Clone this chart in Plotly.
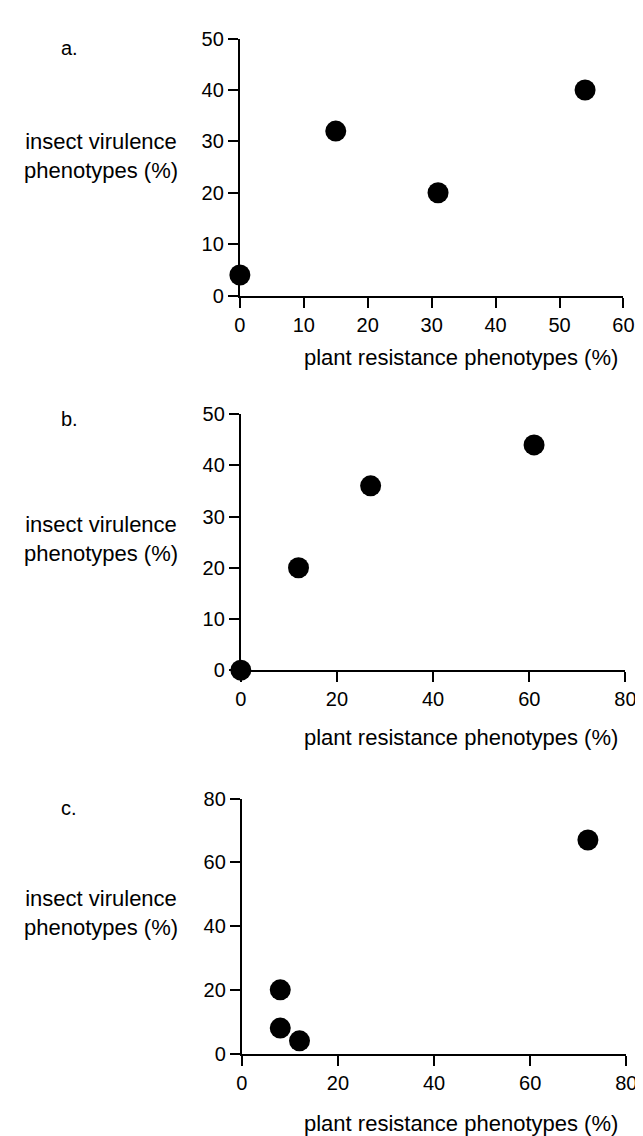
import plotly.graph_objects as go

# Panel a
a_x = [0, 15, 31, 54]
a_y = [4, 32, 20, 40]
# Panel b
b_x = [0, 12, 27, 61]
b_y = [0, 20, 36, 44]
# Panel c
c_x = [8, 8, 12, 72]
c_y = [20, 8, 4, 67]

panel_labels = ["a.", "b.", "c."]
x_title = "plant resistance phenotypes (%)"
y_title = "insect virulence<br>phenotypes (%)"

W, H = 643, 1136
FONT = "Liberation Sans, Arial, sans-serif"

# pixel boxes: (left, right, top, bottom)
boxes = [(232, 626, 20, 282), (233, 628, 403, 664), (234, 629, 795, 1055)]
xr = [60, 80, 80]
yr = [50, 50, 80]
xd = [10, 20, 20]
yd = [10, 10, 20]
label_y = [30, 408, 805]
ytitle_y = [140, 530, 912]
xtitle_y = [345, 733, 1126]
data = [(a_x, a_y), (b_x, b_y), (c_x, c_y)]

fig = go.Figure()
ann = []
for i, ((l, r, t, b), (xs, ys)) in enumerate(zip(boxes, data)):
    n = "" if i == 0 else str(i + 1)
    fig.add_trace(go.Scatter(
        x=xs, y=ys, mode="markers", xaxis="x" + n, yaxis="y" + n,
        marker=dict(size=21, color="black"), cliponaxis=False, showlegend=False))
    ax = dict(domain=[l / W, r / W], range=[0, xr[i]], dtick=xd[i], tick0=0,
              showline=True, linecolor="black", linewidth=2, ticks="outside",
              ticklen=10, tickwidth=2, tickcolor="black", showgrid=False,
              zeroline=False, anchor="y" + n, fixedrange=True,
              tickfont=dict(size=20, color="black", family=FONT))
    ay = dict(domain=[1 - b / H, 1 - t / H], range=[0, yr[i]], dtick=yd[i], tick0=0,
              showline=True, linecolor="black", linewidth=2, ticks="outside",
              ticklen=10, tickwidth=2, tickcolor="black", showgrid=False,
              zeroline=False, anchor="x" + n, fixedrange=True,
              tickfont=dict(size=20, color="black", family=FONT))
    fig.layout["xaxis" + n] = ax
    fig.layout["yaxis" + n] = ay
    ann.append(dict(text=panel_labels[i], x=46 / W, y=1 - label_y[i] / H, xref="paper", yref="paper",
                    xanchor="left", yanchor="middle", showarrow=False,
                    font=dict(size=20, color="black", family=FONT)))
    ann.append(dict(text=y_title, x=89 / W, y=1 - ytitle_y[i] / H, xref="paper", yref="paper",
                    xanchor="center", yanchor="middle", showarrow=False, align="center",
                    font=dict(size=22, color="black", family=FONT)))
    ann.append(dict(text=x_title, x=622 / W, y=1 - xtitle_y[i] / H, xref="paper", yref="paper",
                    xanchor="right", yanchor="middle", showarrow=False,
                    font=dict(size=22, color="black", family=FONT)))

fig.update_layout(width=W, height=H, margin=dict(l=0, r=0, t=0, b=0),
                  paper_bgcolor="white", plot_bgcolor="white", annotations=ann,
                  font=dict(family=FONT, color="black"))
fig.write_html("out.html", config={"displayModeBar": False})
